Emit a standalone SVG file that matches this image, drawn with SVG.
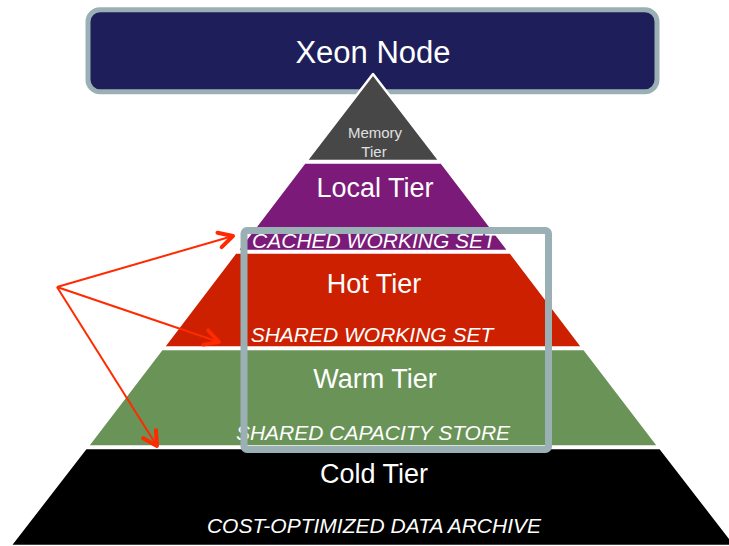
<svg xmlns="http://www.w3.org/2000/svg" width="729" height="546" viewBox="0 0 729 546">
<defs>
<style>
.band{stroke:#ffffff;stroke-width:2.5;stroke-linejoin:round}
.t{font-family:"Liberation Sans",Arial,sans-serif;fill:#ffffff;text-anchor:middle}
.big{font-size:27px}
.it{font-size:21px;font-style:italic}
.mem{font-size:15px;fill:#e0e0e0}
.arr{stroke:#ff2a00;stroke-width:2;fill:none;marker-end:url(#ah)}
</style>
<marker id="ah" markerUnits="userSpaceOnUse" markerWidth="30" markerHeight="30" refX="0" refY="0" viewBox="-20 -15 30 30" orient="auto" overflow="visible">
<path d="M-14,-7.5 L0,0 L-14,7.5" fill="none" stroke="#ff2a00" stroke-width="4" stroke-linecap="round" stroke-linejoin="round"/>
</marker>
</defs>
<rect width="729" height="546" fill="#ffffff"/>
<g id="xeon-node">
<rect x="88" y="9.7" width="569" height="82" rx="12" fill="#1e1f5a" stroke="#9ab0b4" stroke-width="5"/>
<text class="t" x="373" y="63" font-size="31">Xeon Node</text>
</g>
<g id="cold-tier">
<polygon class="band" points="85.8,448 660.2,448 736,546 10,546" fill="#000000"/>
<text class="t big" x="374" y="483">Cold Tier</text>
<text class="t it" x="374" y="533">COST-OPTIMIZED DATA ARCHIVE</text>
</g>
<g id="warm-tier">
<polygon class="band" points="161.8,349 584.2,349 658.7,446.5 87.3,446.5" fill="#6a9357"/>
<text class="t big" x="375" y="388">Warm Tier</text>
<text class="t it" x="373" y="440">SHARED CAPACITY STORE</text>
</g>
<g id="hot-tier">
<polygon class="band" points="235.5,252.5 510.5,252.5 582.7,347.5 163.3,347.5" fill="#cc2000"/>
<text class="t big" x="374" y="293">Hot Tier</text>
<text class="t it" x="372" y="342">SHARED WORKING SET</text>
</g>
<g id="local-tier">
<polygon class="band" points="304.6,162.5 441.4,162.5 508.9,251 237.1,251" fill="#7b1a78"/>
<text class="t big" x="375" y="197">Local Tier</text>
<text class="t it" x="374" y="248">CACHED WORKING SET</text>
</g>
<g id="memory-tier">
<polygon class="band" points="373,74 439.8,161 306.2,161" fill="#474747"/>
<text class="t mem" x="375" y="138">Memory</text>
<text class="t mem" x="374" y="157">Tier</text>
</g>
<g id="shared-box">
<rect x="244" y="230.5" width="304.5" height="219" rx="3" fill="none" stroke="#9ab0b4" stroke-width="7"/>
</g>
<g id="connectors">
<line class="arr" x1="57" y1="287" x2="233" y2="236"/>
<line class="arr" x1="57" y1="287" x2="219" y2="342"/>
<line class="arr" x1="57" y1="287" x2="157" y2="446"/>
</g>
</svg>
